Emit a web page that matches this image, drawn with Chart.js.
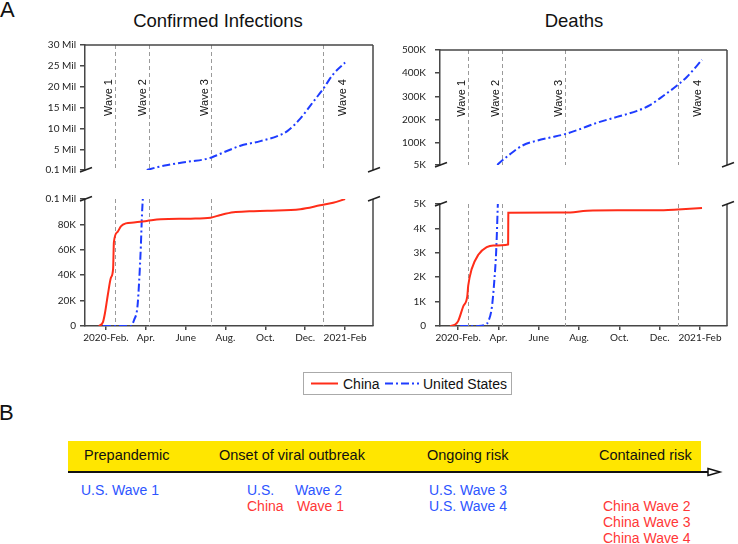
<!DOCTYPE html>
<html>
<head>
<meta charset="utf-8">
<script src="https://cdn.jsdelivr.net/npm/chart.js@4.4.1/dist/chart.umd.min.js"></script>
<style>
body { margin: 0; background: #fff; }
#page { position: relative; width: 738px; height: 544px; overflow: hidden; font-family: "Liberation Sans", Arial, sans-serif; color: #111; }
canvas { position: absolute; }
.t { position: absolute; white-space: nowrap; line-height: 1; }
.hd { font-size: 14.5px; top: 448px; color: #111; }
.us { color: rgb(45, 85, 255); font-size: 14px; }
.cn { color: rgb(255, 55, 55); font-size: 14px; }
#bar { position: absolute; left: 68px; top: 441px; width: 633px; height: 31px; background: #ffe600; }
#legend { position: absolute; left: 303px; top: 372px; width: 207px; height: 21px; border: 1px solid #aaa; font-size: 14px; }
#legend span { position: absolute; top: 3px; }
</style>
</head>
<body>
<div id="page">
  <div class="t" style="left:0;top:-1px;font-size:22px">A</div>
  <div class="t" style="left:118px;top:12px;width:200px;text-align:center;font-size:18.5px">Confirmed Infections</div>
  <div class="t" style="left:474px;top:12px;width:200px;text-align:center;font-size:18.5px">Deaths</div>

  <canvas id="casesTop" width="385" height="145" style="left:0;top:35px"></canvas>
  <canvas id="casesLow" width="385" height="160" style="left:0;top:189px"></canvas>
  <canvas id="deathsTop" width="353" height="145" style="left:385px;top:35px"></canvas>
  <canvas id="deathsLow" width="353" height="160" style="left:385px;top:189px"></canvas>

  <div id="legend"></div>

  <div class="t" style="left:-1px;top:402px;font-size:22px">B</div>
  <div id="bar"></div>
  <svg width="738" height="20" style="position:absolute;left:0;top:462px">
    <line x1="68" y1="10" x2="709" y2="10" stroke="#111" stroke-width="2"/>
    <polygon points="708,6.5 720,10 708,13.5" fill="#fff" stroke="#111" stroke-width="1.5"/>
  </svg>
  <div class="t hd" style="left:84px">Prepandemic</div>
  <div class="t hd" style="left:219px">Onset of viral outbreak</div>
  <div class="t hd" style="left:427px">Ongoing risk</div>
  <div class="t hd" style="left:599px">Contained risk</div>

  <div class="t us" style="left:81px;top:483px">U.S. Wave 1</div>
  <div class="t us" style="left:247px;top:483px">U.S.</div>
  <div class="t us" style="left:295px;top:483px">Wave 2</div>
  <div class="t cn" style="left:247px;top:499px">China</div>
  <div class="t cn" style="left:297px;top:499px">Wave 1</div>
  <div class="t us" style="left:429px;top:483px">U.S. Wave 3</div>
  <div class="t us" style="left:429px;top:499px">U.S. Wave 4</div>
  <div class="t cn" style="left:603px;top:499px">China Wave 2</div>
  <div class="t cn" style="left:603px;top:515px">China Wave 3</div>
  <div class="t cn" style="left:603px;top:531px">China Wave 4</div>
</div>

<script>
// x values are months since 2020-01-01
const seriesNames = ['China', 'United States'];

const xTickMonths = [1, 3, 5, 7, 9, 11, 13];
const xTickLabels = ['2020-Feb.', 'Apr.', 'June', 'Aug.', 'Oct.', 'Dec.', '2021-Feb'];

const waveMonths = [1.47, 3.17, 6.29, 11.9];
const waveLabels = ['Wave 1', 'Wave 2', 'Wave 3', 'Wave 4'];

const casesTopTicks = [100000, 5000000, 10000000, 15000000, 20000000, 25000000, 30000000];
const casesTopLabels = ['0.1 Mil', '5 Mil', '10 Mil', '15 Mil', '20 Mil', '25 Mil', '30 Mil'];
const casesLowTicks = [0, 20000, 40000, 60000, 80000, 100000];
const casesLowLabels = ['0', '20K', '40K', '60K', '80K', '0.1 Mil'];
const deathsTopTicks = [5000, 100000, 200000, 300000, 400000, 500000];
const deathsTopLabels = ['5K', '100K', '200K', '300K', '400K', '500K'];
const deathsLowTicks = [0, 1000, 2000, 3000, 4000, 5000];
const deathsLowLabels = ['0', '1K', '2K', '3K', '4K', '5K'];

// confirmed infections
const chinaCasesMonths = [0.65, 0.85, 0.95, 1.1, 1.25, 1.36, 1.4, 1.58, 1.75, 2.0, 2.4, 3.05, 3.75, 5.25, 6.25, 6.75, 7.4, 8.2, 9.1, 10.75, 11.75, 12.4, 13.0];
const chinaCases = [0, 3000, 10000, 25000, 38000, 45000, 66000, 74000, 78500, 80800, 81500, 82700, 84000, 84500, 85300, 87400, 89500, 90300, 90800, 92000, 95000, 97000, 100000];
const usCasesLowMonths = [0.85, 1.5, 2.0, 2.25, 2.42, 2.58, 2.67, 2.75, 2.81, 2.85];
const usCasesLow = [0, 0, 0, 0, 5000, 15000, 36000, 62000, 88000, 100000];
const usCasesTopMonths = [3.05, 3.6, 4.1, 4.7, 5.3, 5.9, 6.3, 6.7, 7.1, 7.75, 8.75, 9.6, 10.1, 10.75, 11.4, 11.9, 12.4, 13.0];
const usCasesTop = [100000, 800000, 1300000, 1800000, 2200000, 2600000, 3100000, 3900000, 4700000, 5900000, 7000000, 8200000, 9400000, 12400000, 16400000, 19500000, 23000000, 25800000];

// deaths
const chinaDeathsMonths = [0.6, 0.85, 1.0, 1.25, 1.45, 1.5, 1.67, 2.0, 2.42, 2.74, 3.48, 3.49, 6.3, 7.4, 8.9, 11.2, 11.9, 13.1];
const chinaDeaths = [0, 60, 200, 800, 1200, 1650, 2330, 2920, 3230, 3300, 3340, 4640, 4650, 4720, 4740, 4740, 4770, 4840];
const usDeathsLowMonths = [1.1, 2.0, 2.34, 2.5, 2.67, 2.79, 2.89, 2.97];
const usDeathsLow = [0, 0, 50, 200, 750, 1800, 3100, 5000];
const usDeathsTopMonths = [2.94, 3.0, 3.58, 4.22, 4.92, 5.56, 6.3, 6.9, 7.9, 8.88, 9.88, 10.52, 11.17, 11.86, 12.36, 13.1];
const usDeathsTop = [5000, 10000, 52000, 90000, 110000, 123000, 138000, 155000, 187000, 212000, 238000, 263000, 302000, 347000, 385000, 458000];

const red = 'rgb(255, 45, 25)';
const blue = 'rgb(30, 60, 255)';
const usDash = [8, 3, 2, 3];
const axisColor = '#474747';
const tickFont = { family: 'Lato', size: 10 };

function pts(xs, ys) { return xs.map((x, i) => ({ x: x, y: ys[i] })); }

function chinaSet(xs, ys) {
  return { label: seriesNames[0], data: pts(xs, ys), borderColor: red, borderWidth: 2,
    pointRadius: 0, cubicInterpolationMode: 'monotone' };
}
function usSet(xs, ys) {
  return { label: seriesNames[1], data: pts(xs, ys), borderColor: blue, borderWidth: 2,
    borderDash: usDash, pointRadius: 0, cubicInterpolationMode: 'monotone' };
}

function yAxis(ticks, labels, width, pad) {
  return {
    min: ticks[0], max: ticks[ticks.length - 1],
    afterBuildTicks: s => { s.ticks = ticks.map(v => ({ value: v })); },
    afterFit: s => { s.width = width; },
    ticks: { callback: (v, i) => labels[i], font: tickFont, color: '#222', padding: pad, autoSkip: false },
    grid: { drawOnChartArea: false, tickLength: 5, color: axisColor, lineWidth: 1.5 },
    border: { color: axisColor, width: 1.5 }
  };
}
function xAxis(min, max, shown) {
  if (!shown) return { type: 'linear', min: min, max: max, display: false };
  return {
    type: 'linear', min: min, max: max,
    afterBuildTicks: s => { s.ticks = xTickMonths.map(v => ({ value: v })); },
    afterFit: s => { s.height = 23; },
    ticks: { callback: (v, i) => xTickLabels[i], font: tickFont, color: '#222', padding: 2, autoSkip: false, maxRotation: 0 },
    grid: { drawOnChartArea: false, tickLength: 4, color: axisColor, lineWidth: 1.5 },
    border: { color: axisColor, width: 1.5 }
  };
}

// dashed wave markers, panel frame and axis-break slashes
const framePlugin = {
  id: 'frame',
  beforeDatasetsDraw(chart, args, opts) {
    const { ctx, chartArea: a, scales } = chart;
    ctx.save();
    ctx.strokeStyle = '#9a9a9a';
    ctx.lineWidth = 1;
    ctx.setLineDash([4, 3]);
    waveMonths.forEach(m => {
      const x = Math.round(scales.x.getPixelForValue(m)) + 0.5;
      ctx.beginPath(); ctx.moveTo(x, a.top); ctx.lineTo(x, a.bottom); ctx.stroke();
    });
    ctx.setLineDash([]);
    if (opts.labels) {
      ctx.fillStyle = '#111';
      ctx.font = '11px "Liberation Sans", Arial, sans-serif';
      ctx.textAlign = 'center';
      ctx.textBaseline = 'alphabetic';
      const cy = a.top + 0.42 * (a.bottom - a.top);
      waveMonths.forEach((m, i) => {
        const x = scales.x.getPixelForValue(m);
        const last = i === waveMonths.length - 1;
        ctx.save();
        ctx.translate(last ? x + 23 : x - 3, cy);
        ctx.rotate(-Math.PI / 2);
        ctx.fillText(waveLabels[i], 0, 0);
        ctx.restore();
      });
    }
    ctx.restore();
  },
  afterDraw(chart, args, opts) {
    const { ctx, chartArea: a } = chart;
    ctx.save();
    ctx.strokeStyle = axisColor;
    ctx.lineWidth = 1.5;
    ctx.beginPath();
    if (opts.top) { ctx.moveTo(a.left, a.top); ctx.lineTo(a.right, a.top); }
    ctx.moveTo(a.right, a.top); ctx.lineTo(a.right, a.bottom);
    ctx.stroke();
    const y = opts.top ? a.bottom : a.top;
    ctx.strokeStyle = '#222';
    [a.left, a.right].forEach(x => {
      ctx.beginPath(); ctx.moveTo(x - 5, y + 2); ctx.lineTo(x + 7, y - 2.5); ctx.stroke();
    });
    ctx.restore();
  }
};

function makeChart(id, datasets, scales, frame, padding) {
  return new Chart(document.getElementById(id), {
    type: 'line',
    data: { datasets: datasets },
    options: {
      responsive: false, animation: false, devicePixelRatio: 1,
      layout: { padding: padding },
      scales: scales,
      plugins: { legend: { display: false }, tooltip: { enabled: false }, frame: frame }
    },
    plugins: [framePlugin]
  });
}

const leftMin = -0.05, leftMax = 14.4;
const rightMin = 0.1, rightMax = 14.34;

makeChart('casesTop', [usSet(usCasesTopMonths, usCasesTop)],
  { x: xAxis(leftMin, leftMax, false), y: yAxis(casesTopTicks, casesTopLabels, 85, 4) },
  { top: true, labels: true }, { top: 10, right: 12, bottom: 7, left: 0 });

makeChart('casesLow', [chinaSet(chinaCasesMonths, chinaCases), usSet(usCasesLowMonths, usCasesLow)],
  { x: xAxis(leftMin, leftMax, true), y: yAxis(casesLowTicks, casesLowLabels, 85, 4) },
  { top: false, labels: false }, { top: 10, right: 12, bottom: 0, left: 0 });

makeChart('deathsTop', [usSet(usDeathsTopMonths, usDeathsTop)],
  { x: xAxis(rightMin, rightMax, false), y: yAxis(deathsTopTicks, deathsTopLabels, 55, 9) },
  { top: true, labels: true }, { top: 10, right: 11, bottom: 7, left: 0 });

makeChart('deathsLow', [chinaSet(chinaDeathsMonths, chinaDeaths), usSet(usDeathsLowMonths, usDeathsLow)],
  { x: xAxis(rightMin, rightMax, true), y: yAxis(deathsLowTicks, deathsLowLabels, 55, 9) },
  { top: false, labels: false }, { top: 10, right: 11, bottom: 0, left: 0 });

// legend built from the series names
const legend = document.getElementById('legend');
const svgNS = 'http://www.w3.org/2000/svg';
const svg = document.createElementNS(svgNS, 'svg');
svg.setAttribute('width', '207'); svg.setAttribute('height', '21');
svg.style.position = 'absolute'; svg.style.left = '0'; svg.style.top = '0';
[[7, 34, red, ''], [81, 115, blue, usDash.join(' ')]].forEach(([x1, x2, c, dash]) => {
  const l = document.createElementNS(svgNS, 'line');
  l.setAttribute('x1', x1); l.setAttribute('x2', x2); l.setAttribute('y1', 10.5); l.setAttribute('y2', 10.5);
  l.setAttribute('stroke', c); l.setAttribute('stroke-width', 2);
  if (dash) l.setAttribute('stroke-dasharray', dash);
  svg.appendChild(l);
});
legend.appendChild(svg);
[39, 119].forEach((left, i) => {
  const s = document.createElement('span');
  s.style.left = left + 'px';
  s.textContent = seriesNames[i];
  legend.appendChild(s);
});
</script>
</body>
</html>
